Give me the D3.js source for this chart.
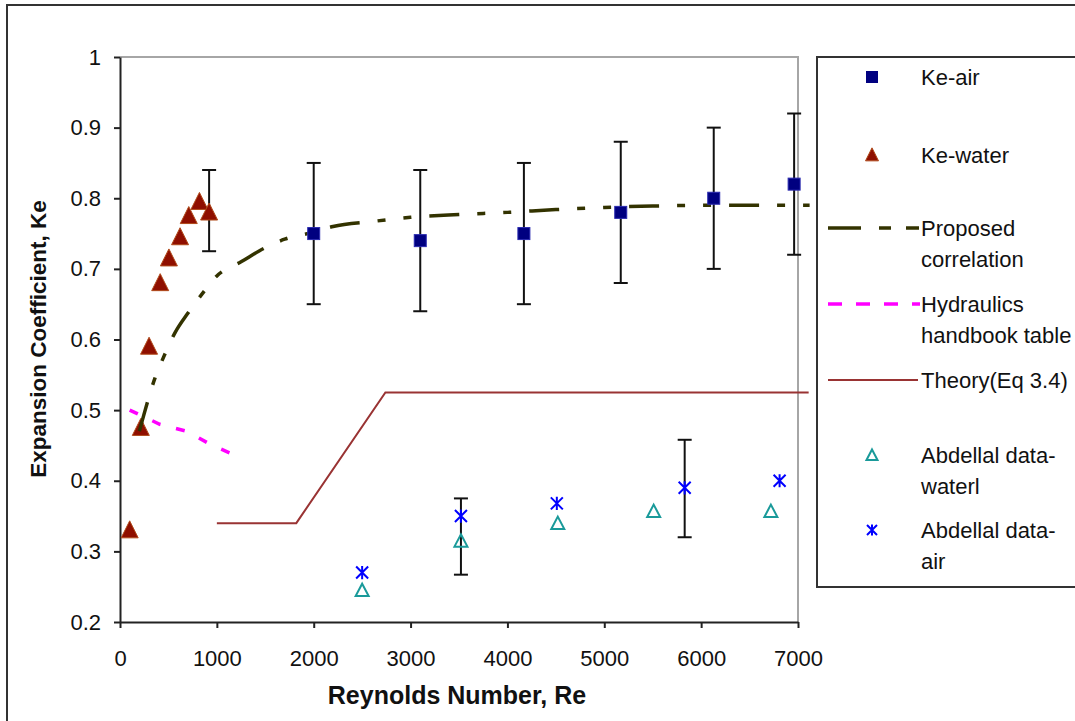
<!DOCTYPE html>
<html>
<head>
<meta charset="utf-8">
<script src="https://cdn.jsdelivr.net/npm/d3@7"></script>
<style>
  html, body { margin: 0; padding: 0; background: #fff; }
  svg { display: block; font-family: "Liberation Sans", Arial, sans-serif; }
</style>
</head>
<body>
<svg id="chart" width="1075" height="721"></svg>
<script>
// Ke measurements for air (with ±0.1 uncertainty)
const keAirRe = [2000, 3100, 4170, 5170, 6130, 6960];
const keAir = [0.75, 0.74, 0.75, 0.78, 0.80, 0.82];
const keAirLo = [0.65, 0.64, 0.65, 0.68, 0.70, 0.72];
const keAirHi = [0.85, 0.84, 0.85, 0.88, 0.90, 0.92];

// Ke measurements for water
const keWaterRe = [100, 215, 300, 415, 505, 620, 710, 820, 920];
const keWater = [0.33, 0.475, 0.59, 0.68, 0.715, 0.745, 0.775, 0.795, 0.78];
const keWaterBarRe = [920];
const keWaterBarLo = [0.725];
const keWaterBarHi = [0.84];

// Proposed correlation curve
const corrRe = [200, 260, 360, 450, 570, 700, 850, 1000, 1250, 1500, 1700, 2000, 2200, 2600, 3000, 3500, 4000, 4500, 5000, 5500, 6000, 6500, 7120];
const corrKe = [0.47, 0.50, 0.545, 0.575, 0.61, 0.637, 0.665, 0.69, 0.71, 0.73, 0.742, 0.752, 0.76, 0.767, 0.773, 0.777, 0.78, 0.784, 0.787, 0.789, 0.79, 0.79, 0.79];

// Hydraulics handbook table values
const handRe = [100, 410, 690, 940, 1240];
const handKe = [0.50, 0.48, 0.47, 0.451, 0.433];

// Theory (Eq 3.4)
const theoryRe = [1000, 1820, 2740, 7110];
const theoryKe = [0.34, 0.34, 0.525, 0.525];

// Abdellal data
const abWaterRe = [2500, 3520, 4520, 5510, 6720];
const abWater = [0.245, 0.315, 0.34, 0.357, 0.357];
const abAirRe = [2500, 3520, 4510, 5830, 6810];
const abAir = [0.27, 0.35, 0.368, 0.39, 0.40];
const abAirBarRe = [3520, 5830];
const abAirBarLo = [0.267, 0.32];
const abAirBarHi = [0.375, 0.458];

// Axis ticks
const xTicks = [0, 1000, 2000, 3000, 4000, 5000, 6000, 7000];
const yTicks = [0.2, 0.3, 0.4, 0.5, 0.6, 0.7, 0.8, 0.9, 1];

const legendItems = [
  { key: "air", lines: ["Ke-air"] },
  { key: "water", lines: ["Ke-water"] },
  { key: "corr", lines: ["Proposed", "correlation"] },
  { key: "hand", lines: ["Hydraulics", "handbook table"] },
  { key: "theory", lines: ["Theory(Eq 3.4)"] },
  { key: "abwater", lines: ["Abdellal data-", "waterl"] },
  { key: "abair", lines: ["Abdellal data-", "air"] }
];

const C = {
  air: "#000080",
  water: "#8f0f00",
  waterEdge: "#b04a1a",
  corr: "#333300",
  hand: "#ff00ff",
  theory: "#993333",
  abwater: "#1a9a9a",
  abair: "#0000ff"
};

const svg = d3.select("#chart");
const x = d3.scaleLinear().domain([0, 7000]).range([120, 798]);
const y = d3.scaleLinear().domain([0.2, 1]).range([622, 57]);

// outer chart frame
svg.append("rect").attr("x", 7).attr("y", 5).attr("width", 1100).attr("height", 740)
  .attr("fill", "#fff").attr("stroke", "#333").attr("stroke-width", 2);

// plot area border (top and right)
svg.append("path")
  .attr("d", `M${x(0)},${y(1)}H${x(7000)}V${y(0.2)}`)
  .attr("fill", "none").attr("stroke", "#a6a6a6").attr("stroke-width", 2);

// axes
const yAxis = svg.append("g").attr("transform", `translate(${x(0)},0)`)
  .call(d3.axisLeft(y).tickValues(yTicks).tickSize(6).tickSizeOuter(0).tickPadding(13)
    .tickFormat(d => String(+d.toFixed(1))));
const xAxis = svg.append("g").attr("transform", `translate(0,${y(0.2)})`)
  .call(d3.axisBottom(x).tickValues(xTicks).tickSize(6).tickSizeOuter(0).tickPadding(22)
    .tickFormat(d3.format("d")));
[xAxis, yAxis].forEach(g => {
  g.select(".domain").attr("stroke", "#222").attr("stroke-width", 2);
  g.selectAll(".tick line").attr("stroke", "#222").attr("stroke-width", 2);
  g.selectAll(".tick text").attr("font-size", 22).attr("fill", "#111")
    .attr("font-family", "'Liberation Sans', Arial, sans-serif");
});

// axis titles
svg.append("text").attr("x", 457).attr("y", 704).attr("text-anchor", "middle")
  .attr("font-size", 25).attr("font-weight", "bold").attr("fill", "#111")
  .text("Reynolds Number, Re");
svg.append("text").attr("transform", "translate(46,339) rotate(-90)").attr("text-anchor", "middle")
  .attr("font-size", 22.5).attr("font-weight", "bold").attr("fill", "#111")
  .text("Expansion Coefficient, Ke");

// marker shapes
const triFilled = s => `M0,${-s * 0.55}L${s * 0.5},${s * 0.45}L${-s * 0.5},${s * 0.45}Z`;
const triOpen = s => `M0,${-s * 0.5}L${s * 0.5},${s * 0.45}L${-s * 0.5},${s * 0.45}Z`;
const star = s => `M${-s / 2},${-s / 2}L${s / 2},${s / 2}M${-s / 2},${s / 2}L${s / 2},${-s / 2}M0,${-s * 0.55}V${s * 0.55}`;

// lines
const line = d3.line().x(d => x(d[0])).y(d => y(d[1]));
const smooth = d3.line().x(d => x(d[0])).y(d => y(d[1])).curve(d3.curveMonotoneX);

svg.append("path").datum(theoryRe.map((r, i) => [r, theoryKe[i]]))
  .attr("d", line).attr("fill", "none").attr("stroke", C.theory).attr("stroke-width", 2);

svg.append("path").datum(handRe.map((r, i) => [r, handKe[i]]))
  .attr("d", line).attr("fill", "none").attr("stroke", C.hand).attr("stroke-width", 3.5)
  .attr("stroke-dasharray", "9,16");

// error bars
function errorBars(res, lo, hi) {
  const g = svg.append("g").attr("stroke", "#111").attr("stroke-width", 2);
  res.forEach((r, i) => {
    const cx = x(r);
    g.append("line").attr("x1", cx).attr("x2", cx).attr("y1", y(lo[i])).attr("y2", y(hi[i]));
    g.append("line").attr("x1", cx - 7).attr("x2", cx + 7).attr("y1", y(lo[i])).attr("y2", y(lo[i]));
    g.append("line").attr("x1", cx - 7).attr("x2", cx + 7).attr("y1", y(hi[i])).attr("y2", y(hi[i]));
  });
}
errorBars(keAirRe, keAirLo, keAirHi);
errorBars(keWaterBarRe, keWaterBarLo, keWaterBarHi);
errorBars(abAirBarRe, abAirBarLo, abAirBarHi);

// Ke-water triangles
svg.append("g").selectAll("path").data(keWaterRe).join("path")
  .attr("transform", (r, i) => `translate(${x(r)},${y(keWater[i])})`)
  .attr("d", triFilled(17)).attr("fill", C.water).attr("stroke", C.waterEdge).attr("stroke-width", 1);

// proposed correlation
svg.append("path").datum(corrRe.map((r, i) => [r, corrKe[i]]))
  .attr("d", smooth).attr("fill", "none").attr("stroke", C.corr).attr("stroke-width", 3.5)
  .attr("stroke-dasharray", "30,18,8,18,8,18");

// Ke-air squares
svg.append("g").selectAll("rect").data(keAirRe).join("rect")
  .attr("x", r => x(r) - 6).attr("y", (r, i) => y(keAir[i]) - 6)
  .attr("width", 12).attr("height", 12).attr("fill", C.air).attr("stroke", "#2a2ab0").attr("stroke-width", 1);

// Abdellal water: open triangles
svg.append("g").selectAll("path").data(abWaterRe).join("path")
  .attr("transform", (r, i) => `translate(${x(r)},${y(abWater[i])})`)
  .attr("d", triOpen(13)).attr("fill", "none").attr("stroke", C.abwater).attr("stroke-width", 2);

// Abdellal air: stars
svg.append("g").selectAll("path").data(abAirRe).join("path")
  .attr("transform", (r, i) => `translate(${x(r)},${y(abAir[i])})`)
  .attr("d", star(12)).attr("fill", "none").attr("stroke", C.abair).attr("stroke-width", 2);

// legend
const lg = svg.append("g");
lg.append("rect").attr("x", 817).attr("y", 57).attr("width", 300).attr("height", 530)
  .attr("fill", "#fff").attr("stroke", "#333").attr("stroke-width", 2);
const rowY = [77, 155, 228, 304, 380, 455, 530];
const lineGap = 31;
legendItems.forEach((it, i) => {
  const cy = rowY[i];
  it.lines.forEach((t, j) => {
    lg.append("text").attr("x", 921).attr("y", cy + 8 + j * lineGap)
      .attr("font-size", 22).attr("fill", "#111").text(t);
  });
  const sym = lg.append("g").attr("transform", `translate(872,${cy})`);
  if (it.key === "air") {
    sym.append("rect").attr("x", -6).attr("y", -6).attr("width", 12).attr("height", 12).attr("fill", C.air);
  } else if (it.key === "water") {
    sym.append("path").attr("d", triFilled(13)).attr("fill", C.water).attr("stroke", C.waterEdge);
  } else if (it.key === "corr") {
    sym.append("line").attr("x1", -44).attr("x2", 47).attr("stroke", C.corr).attr("stroke-width", 3.5)
      .attr("stroke-dasharray", "33,18,12,15,13");
  } else if (it.key === "hand") {
    sym.append("line").attr("x1", -44).attr("x2", 48).attr("stroke", C.hand).attr("stroke-width", 3.5)
      .attr("stroke-dasharray", "14,14");
  } else if (it.key === "theory") {
    sym.append("line").attr("x1", -44).attr("x2", 46).attr("stroke", C.theory).attr("stroke-width", 2);
  } else if (it.key === "abwater") {
    sym.append("path").attr("d", triOpen(11)).attr("fill", "none").attr("stroke", C.abwater).attr("stroke-width", 2);
  } else if (it.key === "abair") {
    sym.append("path").attr("d", star(10)).attr("fill", "none").attr("stroke", C.abair).attr("stroke-width", 2);
  }
});
</script>
</body>
</html>
